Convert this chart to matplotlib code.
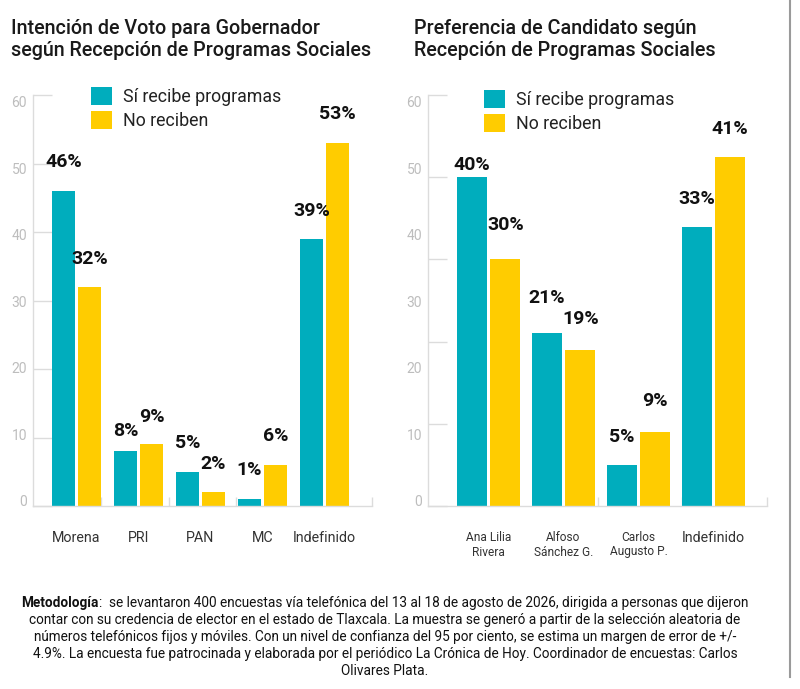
import matplotlib
matplotlib.use("Agg")
import matplotlib.pyplot as plt
import numpy as np
from matplotlib.lines import Line2D
from matplotlib.patches import Patch

plt.rcParams["font.family"] = ["Roboto", "DejaVu Sans"]

# --------------------------------------------------------------------------- #
# data
# --------------------------------------------------------------------------- #
series_names = ["Sí recibe programas", "No reciben"]
y_tick_labels = ["0", "10", "20", "30", "40", "50", "60"]

left_title = "Intención de Voto para Gobernador\nsegún Recepción de Programas Sociales"
left_categories = ["Morena", "PRI", "PAN", "MC", "Indefinido"]
left_si = [46, 8, 5, 1, 39]
left_no = [32, 9, 2, 6, 53]

right_title = "Preferencia de Candidato según\nRecepción de Programas Sociales"
right_categories = ["Ana Lilia\nRivera", "Alfoso\nSánchez G.", "Carlos\nAugusto P.", "Indefinido"]
right_si_labels = [40, 21, 5, 33]
right_no_labels = [30, 19, 9, 41]
# the right-hand bars sit on a 0-50 grid; Indefinido is drawn a bit taller than its label
right_si = [40, 21, 5, 34]
right_no = [30, 19, 9, 42.5]

footer_bold = "Metodología"
footer_first = (":  se levantaron 400 encuestas vía telefónica del 13 al 18 de agosto "
                "de 2026, dirigida a personas que dijeron")
footer_lines = [
    "contar con su credencia de elector en el estado de Tlaxcala. La muestra se generó "
    "a partir de la selección aleatoria de",
    "números telefónicos fijos y móviles. Con un nivel de confianza del 95 por ciento, "
    "se estima un margen de error de +/-",
    "4.9%. La encuesta fue patrocinada y elaborada por el periódico La Crónica de Hoy. "
    "Coordinador de encuestas: Carlos",
    "Olivares Plata.",
]

TEAL = "#00adbd"
YELLOW = "#ffcc00"
GRID = "#dcdcdc"
TICK_TEXT = "#bdbdbd"
W, H = 800, 689
PX = 0.72  # points per pixel at dpi=100


def panel(ax, cats, si, no, si_lab, no_lab, xlim, ymax, width, off,
          gap_si, gap_no, cat_sizes):
    x = np.arange(len(cats))
    ax.bar(x - off, si, width, color=TEAL, zorder=2)
    ax.bar(x + off, no, width, color=YELLOW, zorder=2)

    for xs, vals, labs, gaps in ((x - off, si, si_lab, gap_si),
                                 (x + off, no, no_lab, gap_no)):
        for xi, v, lab, g in zip(xs, vals, labs, gaps):
            ax.annotate(f"{lab}%", (xi, v), xytext=(0, g * PX),
                        textcoords="offset points", ha="center", va="center",
                        fontsize=14, fontweight="bold", color="#111111")

    ax.set_xlim(*xlim)
    ax.set_ylim(0, ymax)
    for s in ("top", "right"):
        ax.spines[s].set_visible(False)
    for s in ("left", "bottom"):
        ax.spines[s].set_color(GRID)
        ax.spines[s].set_linewidth(1)

    # short grid stubs along the y axis, labels placed separately
    ax.set_yticks(np.arange(0, ymax + 1, 10))
    ax.set_yticklabels([])
    ax.tick_params(axis="y", direction="in", length=19 * PX, width=1, color=GRID)
    lo, hi = 0.0097, 0.9805
    for k, lab in enumerate(y_tick_labels):
        ax.annotate(lab, (0, lo + k * (hi - lo) / (len(y_tick_labels) - 1)),
                    xycoords="axes fraction", xytext=(-6 * PX, 0),
                    textcoords="offset points", ha="right", va="center",
                    fontsize=10, color=TICK_TEXT)

    # category labels + small separator ticks at the band edges
    ax.set_xticks(x)
    ax.set_xticklabels(cats, color="#333333", linespacing=1.15)
    for t, fs in zip(ax.get_xticklabels(), cat_sizes):
        t.set_fontsize(fs)
    ax.tick_params(axis="x", which="major", length=0, pad=18)
    n = len(cats)
    ax.set_xticks(xlim[0] + (xlim[1] - xlim[0]) * np.arange(1, n + 1) / n, minor=True)
    ax.tick_params(axis="x", which="minor", direction="in", length=9 * PX,
                   width=1, color=GRID)


fig = plt.figure(figsize=(W / 100, H / 100), dpi=100)
fig.patch.set_facecolor("white")

ax_bottom = (H - 506) / H
ax_height = 411 / H
ax_l = fig.add_axes([33 / W, ax_bottom, 339 / W, ax_height])
ax_r = fig.add_axes([428 / W, ax_bottom, 339 / W, ax_height])

panel(ax_l, left_categories, left_si, left_no, left_si, left_no,
      (-(76.5 - 33) / 62, (372 - 76.5) / 62), 60, 23 / 62, 13 / 62,
      [29, 20, 29, 29, 28], [28, 27, 28, 29, 29], [10.3] * 5)
panel(ax_r, right_categories, right_si, right_no, right_si_labels, right_no_labels,
      (-(488.5 - 428) / 75, (767 - 488.5) / 75), 50, 30 / 75, 16.75 / 75,
      [12, 35, 28, 28], [34, 31, 31, 28], [8.6, 8.6, 8.6, 10.3])

handles = [Patch(facecolor=TEAL), Patch(facecolor=YELLOW)]
for ax, (lx, ly) in ((ax_l, (91, 87)), (ax_r, (484, 90))):
    ax.legend(handles, series_names, loc="upper left",
              bbox_to_anchor=(lx / W, 1 - ly / H), bbox_transform=fig.transFigure,
              frameon=False, borderpad=0, borderaxespad=0, fontsize=12.8,
              handlelength=1.18, handleheight=1.18, handletextpad=0.6,
              labelspacing=0.3, labelcolor="#222222")

for title, tx in ((left_title, 11), (right_title, 414)):
    fig.text(tx / W, 1 - 40 / H, title, ha="left", va="center", fontsize=14.2,
             fontweight="medium", color="#1a1a1a", linespacing=1.2)

# footer: bold lead-in followed by plain text, each line centred
renderer = fig.canvas.get_renderer()
fy = 1 - 603 / H
t_bold = fig.text(0, fy, footer_bold, ha="left", va="center", fontsize=9.85,
                  fontweight="bold", color="#111111")
t_rest = fig.text(0, fy, footer_first, ha="left", va="center", fontsize=9.85,
                  color="#111111")
wb = t_bold.get_window_extent(renderer).width
wr = t_rest.get_window_extent(renderer).width
x0 = 385 - (wb + wr) / 2
t_bold.set_x(x0 / W)
t_rest.set_x((x0 + wb) / W)
for i, line in enumerate(footer_lines):
    fig.text(385 / W, 1 - (603 + 17 * (i + 1)) / H, line, ha="center", va="center",
             fontsize=9.85, color="#111111")

# thin frame line on the right edge
fig.add_artist(Line2D([790 / W, 790 / W], [1, 1 - 677 / H],
                      transform=fig.transFigure, color="#9a9a9a", lw=1.5))

fig.savefig("out.png", dpi=100, facecolor="white")
